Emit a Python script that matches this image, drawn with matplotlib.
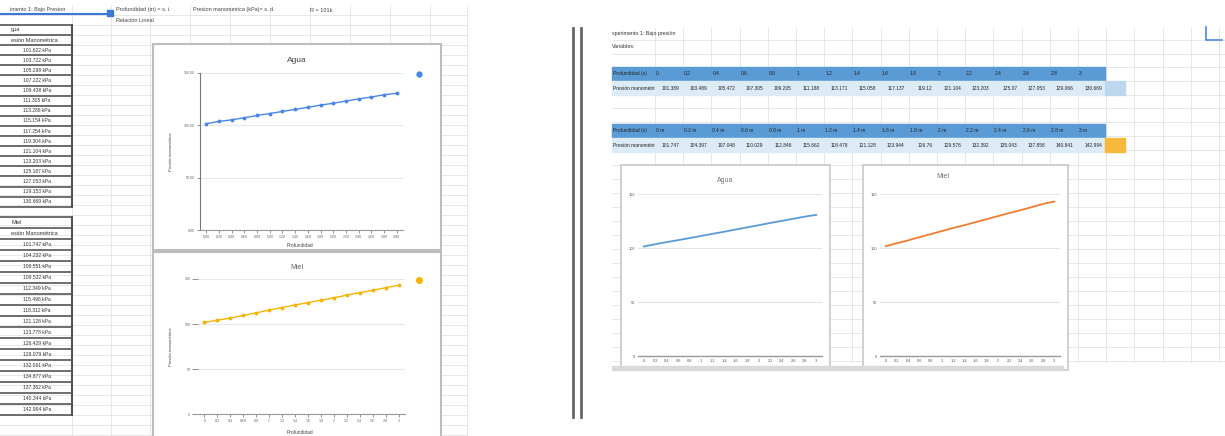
import numpy as np
import matplotlib.pyplot as plt
from matplotlib.patches import Rectangle

W, H = 1225, 436

# datos
prof = [0, 0.2, 0.4, 0.6, 0.8, 1, 1.2, 1.4, 1.6, 1.8, 2, 2.2, 2.4, 2.6, 2.8, 3]
agua_tabla = [101.622, 103.722, 105.298, 107.222, 109.438, 111.305, 113.288, 115.154,
              117.254, 119.304, 121.104, 123.203, 125.187, 127.053, 129.153, 130.669]
miel_tabla = [101.747, 104.232, 106.551, 109.532, 112.349, 115.496, 118.312, 121.128,
              123.778, 126.429, 129.079, 132.061, 134.877, 137.362, 140.344, 142.994]
agua_fila = [101.389, 103.489, 105.472, 107.305, 109.205, 111.188, 113.171, 115.058,
             117.137, 119.12, 121.104, 123.203, 125.07, 127.053, 129.066, 130.669]
miel_fila = [101.747, 104.397, 107.048, 110.029, 112.846, 115.662, 118.478, 121.128,
             123.944, 126.76, 129.576, 132.392, 135.043, 137.858, 140.841, 142.994]
xlab_agua_izq = ['%.2f' % v for v in prof]
xlab_miel_izq = ['0', '0.2', '0.4', '0.60', '0.8', '1', '1.2', '1.4', '1.6', '1.8',
                 '2', '2.2', '2.4', '2.6', '2.8', '3']
xlab_der = ['0', '0.2', '0.4', '0.6', '0.8', '1', '1.2', '1.4', '1.6', '1.8',
            '2', '2.2', '2.4', '2.6', '2.8', '3']
prof_m = [l + ' m' for l in xlab_der]

plt.rcParams['font.family'] = ['Liberation Sans', 'DejaVu Sans']
fig = plt.figure(figsize=(W / 100, H / 100), dpi=100)
bg = fig.add_axes([0, 0, 1, 1])
bg.set_xlim(0, W)
bg.set_ylim(H, 0)
bg.axis('off')

def rect(x0, y0, x1, y1):
    return [x0 / W, 1 - y1 / H, (x1 - x0) / W, (y1 - y0) / H]

grid = '#e3e3e3'
# cuadricula hoja izquierda
for y in np.arange(15, H, 10):
    bg.plot([0, 467], [y, y], color=grid, lw=0.6, zorder=0.5)
for x in [72, 111, 150, 190, 230, 270, 310, 350, 390, 430, 467]:
    bg.plot([x, x], [5, H], color=grid, lw=0.6, zorder=0.5)
# cuadricula hoja derecha
for y in list(np.arange(40, 160, 13.7)) + list(np.arange(165, 362, 14)):
    bg.plot([612, W], [y, y], color=grid, lw=0.6, zorder=0.5)
for x in np.arange(655, W, 28.2):
    bg.plot([x, x], [28, 362], color=grid, lw=0.6, zorder=0.5)

# encabezado izquierdo
bg.text(10, 10, 'imento 1: Bajo Presion', fontsize=4, color='#444', va='center')
bg.plot([0, 110], [14, 14], color='#3c78d8', lw=1.5)
bg.add_patch(Rectangle((107, 10), 6, 6, color='#3c78d8'))
bg.text(116, 10, 'Profundidad (m) = s. i.', fontsize=4, color='#444', va='center')
bg.text(193, 10, 'Presion manometrica (kPa)= s. d.', fontsize=4, color='#444', va='center')
bg.text(310, 10, 'R = 101k', fontsize=4, color='#444', va='center')
bg.text(116, 20, 'Relación Lineal', fontsize=4, color='#444', va='center')

# tablas izquierdas
def tabla_izq(y0, paso, nombre, vals):
    filas = [nombre, 'esión Manométrica'] + ['%.3f kPa' % v for v in vals]
    for i, t in enumerate(filas):
        yc = y0 + i * paso
        bg.plot([0, 72], [yc + paso / 2, yc + paso / 2], color='#555', lw=1.2)
        if i < 2:
            bg.text(11, yc, t, fontsize=4, color='#333', va='center')
        else:
            bg.text(37, yc, t, fontsize=3.6, color='#333', va='center', ha='center')
    bg.plot([0, 72], [y0 - paso / 2, y0 - paso / 2], color='#555', lw=1.2)
    bg.plot([72, 72], [y0 - paso / 2, y0 + (len(filas) - 0.5) * paso], color='#555', lw=1.5)

tabla_izq(30, 10.1, 'gua', agua_tabla)
tabla_izq(222, 11.0, 'Miel', miel_tabla)

# marcos de graficos izquierdos
bg.add_patch(Rectangle((153, 44), 288, 206, facecolor='white', edgecolor='#bdbdbd', lw=1.5, zorder=3))
bg.add_patch(Rectangle((153, 252), 288, 190, facecolor='white', edgecolor='#bdbdbd', lw=1.5, zorder=3))
bg.text(297, 60, 'Agua', fontsize=6, color='#444', ha='center', va='center', zorder=4)
bg.text(297, 267, 'Miel', fontsize=5, color='#666', ha='center', va='center', zorder=4)
bg.text(300, 245, 'Profundidad', fontsize=3.5, color='#444', ha='center', va='center', zorder=4)
bg.text(300, 432, 'Profundidad', fontsize=3.5, color='#444', ha='center', va='center', zorder=4)
bg.plot(419, 74, 'o', color='#4a86e8', ms=3.5, zorder=4)
bg.plot(419, 280, 'o', color='#f6b400', ms=4, zorder=4)

def graf_izq(r, vals, color, xl, ylabs):
    ax = fig.add_axes(rect(*r))
    ax.plot(range(len(vals)), vals, color=color, lw=1, marker='o', ms=1.8)
    ax.set_xlim(-0.5, len(vals) - 0.5)
    ax.set_ylim(0, 150)
    ax.set_yticks([0, 50, 100, 150])
    ax.set_yticklabels(ylabs)
    ax.set_xticks(range(len(vals)))
    ax.set_xticklabels(xl)
    ax.tick_params(labelsize=2.6, length=2, width=0.5, colors='#666', pad=1.5)
    ax.grid(axis='y', color='#e6e6e6', lw=0.8)
    for s in ['top', 'right']:
        ax.spines[s].set_visible(False)
    ax.spines['left'].set_color('#777')
    ax.spines['bottom'].set_color('#999')
    ax.set_ylabel('Presión manométrica', fontsize=3, color='#444', labelpad=8)
    ax.set_facecolor('none')
    return ax

graf_izq((200, 73, 403, 230), agua_tabla, '#4a86e8', xlab_agua_izq,
         ['0.00', '50.00', '100.00', '150.00'])
a2 = graf_izq((198, 279, 405, 414), miel_tabla, '#f6b400', xlab_miel_izq,
              ['0', '50', '100', '150'])
a2.spines['left'].set_visible(False)
a2.tick_params(axis='y', length=4)

# separador doble
bg.plot([573, 573], [28, 417], color='#666', lw=2)
bg.plot([581, 581], [28, 417], color='#666', lw=2)

# hoja derecha
bg.text(612, 33, 'xperimento 1: Bajo presión', fontsize=3.8, color='#333', va='center')
bg.text(612, 47, 'Variables:', fontsize=3.8, color='#333', va='center')
bg.plot([1206, 1206, 1222], [27, 40, 40], color='#4a86e8', lw=1.2)

def tabla_der(y0, cabe, vals, extra):
    bg.add_patch(Rectangle((612, y0), 493, 13, color='#5b9bd5'))
    bg.add_patch(Rectangle((612, y0 + 14), 493, 14, color='#ddebf7'))
    bg.add_patch(Rectangle((1105, y0 + 14), 20, 14, color=extra))
    bg.text(613, y0 + 6.5, 'Profundidad (x)', fontsize=3.5, color='#222', va='center')
    bg.text(613, y0 + 21, 'Presión manométri', fontsize=3.5, color='#222', va='center')
    for i in range(len(vals)):
        x = 655 + 28.2 * i
        bg.text(x + 1, y0 + 6.5, cabe[i], fontsize=3.5, color='#222', va='center')
        bg.text(x + 24, y0 + 21, '%g' % vals[i], fontsize=3.5, color='#222', va='center', ha='right')

tabla_der(67, xlab_der, agua_fila, '#bdd7ee')
tabla_der(124, prof_m, miel_fila, '#f6b93b')

bg.add_patch(Rectangle((621, 165), 209, 205, facecolor='white', edgecolor='#c8c8c8', lw=1.2, zorder=3))
bg.add_patch(Rectangle((863, 165), 205, 205, facecolor='white', edgecolor='#c8c8c8', lw=1.2, zorder=3))
bg.add_patch(Rectangle((612, 366), 451, 4, color='#d9d9d9', zorder=4))
bg.text(725, 180, 'Agua', fontsize=5, color='#777', ha='center', va='center', zorder=4)
bg.text(943, 176, 'Miel', fontsize=5, color='#777', ha='center', va='center', zorder=4)

def graf_der(r, vals, color):
    ax = fig.add_axes(rect(*r))
    ax.plot(range(len(vals)), vals, color=color, lw=1.3)
    ax.set_xlim(-0.5, len(vals) - 0.5)
    ax.set_ylim(0, 150)
    ax.set_yticks([0, 50, 100, 150])
    ax.set_xticks(range(len(vals)))
    ax.set_xticklabels(xlab_der)
    ax.tick_params(labelsize=2.8, length=0, colors='#555', pad=2)
    ax.grid(axis='y', color='#e3e3e3', lw=0.8)
    for s in ['top', 'right', 'left']:
        ax.spines[s].set_visible(False)
    ax.spines['bottom'].set_color('#999')
    ax.spines['bottom'].set_linewidth(1)
    ax.set_facecolor('none')

graf_der((638, 194, 822, 356), agua_fila, '#5b9bd5')
graf_der((880, 194, 1060, 356), miel_fila, '#ed7d31')

fig.savefig('out.png', dpi=100)
